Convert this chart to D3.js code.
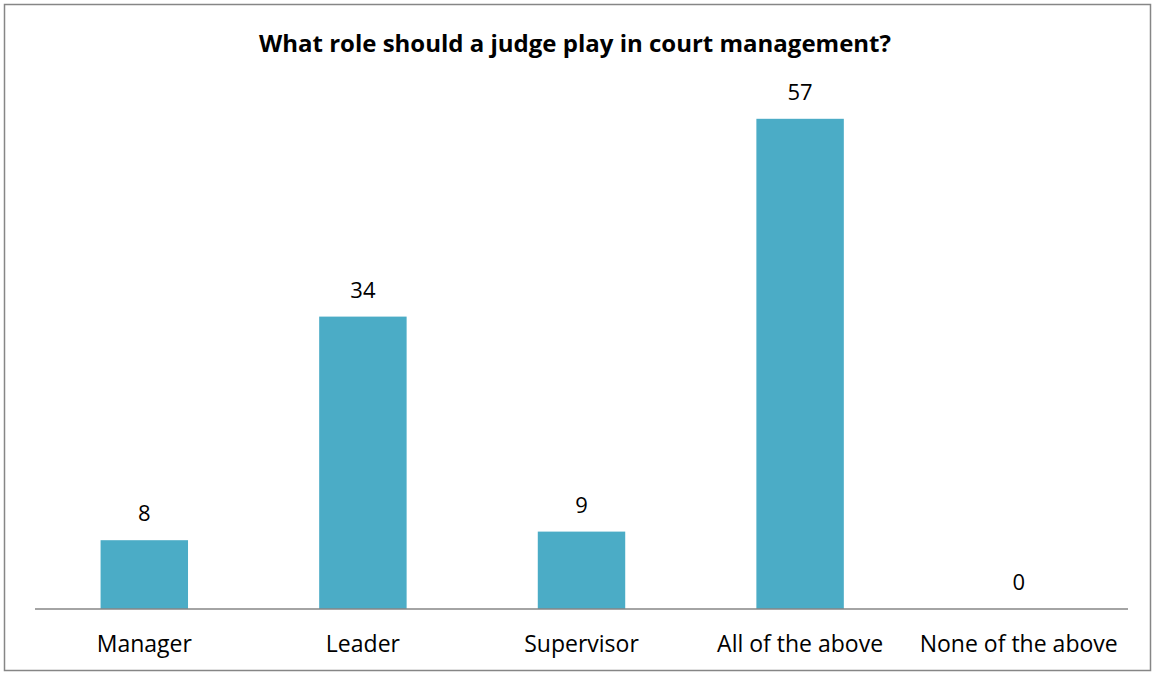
<!DOCTYPE html>
<html><head><meta charset="utf-8">
<script src="https://cdn.jsdelivr.net/npm/d3@7"></script>
<style>body{margin:0;background:#fff;} svg{display:block;}</style>
</head><body>
<svg id="chart" width="1155" height="675"></svg>
<script>
const categories = ["Manager", "Leader", "Supervisor", "All of the above", "None of the above"];
const values = [8, 34, 9, 57, 0];
const title = "What role should a judge play in court management?";

const W = 1155, H = 675;
const svg = d3.select("#chart");
const font = "'Open Sans', 'Noto Sans', sans-serif";

svg.append("rect").attr("x", 4.5).attr("y", 4.5).attr("width", W - 9).attr("height", H - 9)
  .attr("fill", "#fff").attr("stroke", "#868686").attr("stroke-width", 1.5);

const x = d3.scaleBand().domain(categories).range([35, 1128]).paddingInner(0.6).paddingOuter(0.3);
const y = d3.scaleLinear().domain([0, 60]).range([609, 93]);

svg.append("text").attr("x", 575).attr("y", 52).attr("text-anchor", "middle")
  .attr("font-family", font).attr("font-weight", "bold").attr("font-size", 24).attr("fill", "#000")
  .text(title);

svg.selectAll("rect.bar").data(values).join("rect").attr("class", "bar")
  .attr("x", (d, i) => x(categories[i])).attr("width", x.bandwidth())
  .attr("y", d => y(d)).attr("height", d => y(0) - y(d)).attr("fill", "#4BACC6");

svg.selectAll("text.val").data(values).join("text").attr("class", "val")
  .attr("x", (d, i) => x(categories[i]) + x.bandwidth() / 2).attr("y", d => y(d) - 19)
  .attr("text-anchor", "middle").attr("font-family", font).attr("font-size", 22).attr("fill", "#000")
  .text(d => d);

const axis = svg.append("g").attr("transform", "translate(0,609)")
  .call(d3.axisBottom(x).tickSize(0).tickPadding(0));
axis.select(".domain").attr("stroke", "#868686").attr("stroke-width", 1.5).attr("d", "M35,0H1128");
axis.selectAll(".tick text").attr("font-family", font).attr("font-size", 23).attr("fill", "#000")
  .attr("dy", null).attr("y", 43);
</script>
</body></html>
